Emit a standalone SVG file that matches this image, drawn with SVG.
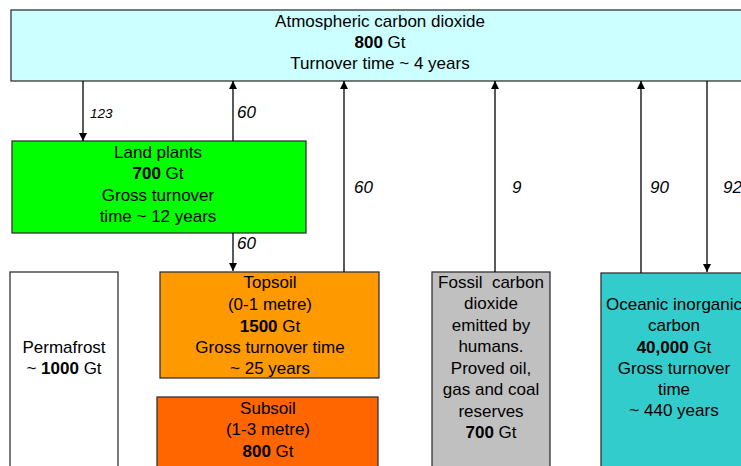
<svg xmlns="http://www.w3.org/2000/svg" width="741" height="466" viewBox="0 0 741 466">
<style>
text{font-family:"Liberation Sans",Arial,sans-serif;font-size:17px;fill:#000;text-anchor:middle}
.b{font-weight:bold}
.lbl{font-style:italic;text-anchor:start}
.box{stroke:#333;stroke-width:1.3}
.arr{stroke:#000;stroke-width:1.3;fill:none;marker-end:url(#ah)}
</style>
<defs>
<marker id="ah" viewBox="0 0 10 10" refX="10" refY="5" markerWidth="8" markerHeight="8" markerUnits="userSpaceOnUse" orient="auto">
<path d="M0,0 L10,5 L0,10 Z" fill="#000"/>
</marker>
</defs>
<g id="atmosphere">
<rect class="box" x="11" y="10" width="740" height="71" fill="#CCFFFF"/>
<text x="380" y="27">Atmospheric carbon dioxide</text>
<text x="380" y="48"><tspan class="b">800</tspan> Gt</text>
<text x="380" y="69">Turnover time ~ 4 years</text>
</g>
<g id="land-plants">
<rect class="box" x="12" y="141" width="294" height="92" fill="#00FF00"/>
<text x="158" y="158">Land plants</text>
<text x="158" y="179"><tspan class="b">700</tspan> Gt</text>
<text x="158" y="201">Gross turnover</text>
<text x="158" y="222">time ~ 12 years</text>
</g>
<g id="permafrost">
<rect class="box" x="10" y="272" width="108" height="200" fill="#FFFFFF"/>
<text x="64" y="353">Permafrost</text>
<text x="64" y="374">~ <tspan class="b">1000</tspan> Gt</text>
</g>
<g id="topsoil">
<rect class="box" x="160" y="272" width="219" height="106" fill="#FF9900"/>
<text x="270" y="288">Topsoil</text>
<text x="270" y="310">(0-1 metre)</text>
<text x="270" y="332"><tspan class="b">1500</tspan> Gt</text>
<text x="270" y="353">Gross turnover time</text>
<text x="270" y="374">~ 25 years</text>
</g>
<g id="subsoil">
<rect class="box" x="157" y="397" width="221" height="80" fill="#FF6600"/>
<text x="268" y="414">Subsoil</text>
<text x="268" y="435">(1-3 metre)</text>
<text x="268" y="457"><tspan class="b">800</tspan> Gt</text>
</g>
<g id="fossil">
<rect class="box" x="432" y="272" width="118" height="200" fill="#C0C0C0"/>
<text x="491" y="288" xml:space="preserve">Fossil  carbon</text>
<text x="491" y="309">dioxide</text>
<text x="491" y="331">emitted by</text>
<text x="491" y="352">humans.</text>
<text x="491" y="374">Proved oil,</text>
<text x="491" y="395">gas and coal</text>
<text x="491" y="417">reserves</text>
<text x="491" y="438"><tspan class="b">700</tspan> Gt</text>
</g>
<g id="ocean">
<rect class="box" x="601" y="273" width="150" height="200" fill="#33CCCC"/>
<text x="674" y="310">Oceanic inorganic</text>
<text x="674" y="331">carbon</text>
<text x="674" y="353"><tspan class="b">40,000</tspan> Gt</text>
<text x="674" y="374">Gross turnover</text>
<text x="674" y="395">time</text>
<text x="674" y="416">~ 440 years</text>
</g>
<g id="connectors">
<line class="arr" x1="83" y1="81" x2="83" y2="141"/>
<line class="arr" x1="233" y1="141" x2="233" y2="81"/>
<line class="arr" x1="233" y1="233" x2="233" y2="271"/>
<line class="arr" x1="344" y1="272" x2="344" y2="81"/>
<line class="arr" x1="495" y1="272" x2="495" y2="81"/>
<line class="arr" x1="641" y1="273" x2="641" y2="81"/>
<line class="arr" x1="707" y1="81" x2="707" y2="272"/>
<text class="lbl" x="90" y="118" style="font-size:13.5px">123</text>
<text class="lbl" x="237" y="118">60</text>
<text class="lbl" x="237" y="249">60</text>
<text class="lbl" x="354" y="193">60</text>
<text class="lbl" x="512" y="193">9</text>
<text class="lbl" x="650" y="193">90</text>
<text class="lbl" x="723" y="193">92</text>
</g>
</svg>
